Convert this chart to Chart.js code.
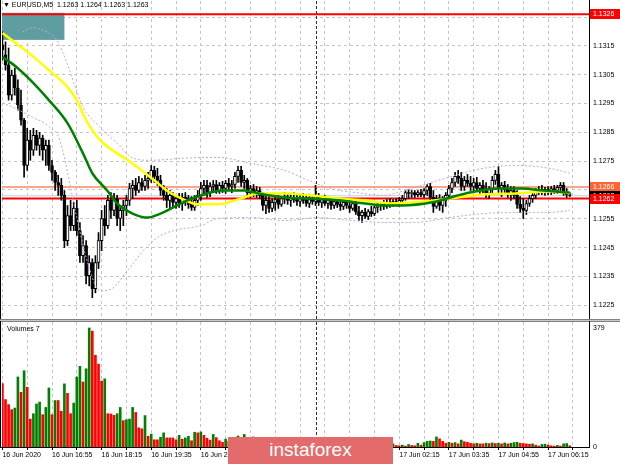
<!DOCTYPE html>
<html>
<head>
<meta charset="utf-8">
<script src="https://cdn.jsdelivr.net/npm/chart.js@4/dist/chart.umd.min.js"></script>
<style>
  html, body { margin: 0; padding: 0; background: #fff; }
  #wrap { position: relative; width: 620px; height: 465px; overflow: hidden; font-family: "Liberation Sans", Arial, sans-serif; }
  canvas { position: absolute; left: 0; }
  #cPrice { top: 0; }
  #cVol { top: 321px; }
  #sep { position: absolute; left: 0; top: 319px; width: 620px; height: 1px; background: #c8c8c8; border-top: 1px solid #808080; border-bottom: 1px solid #808080; }
  #head { position: absolute; left: 3px; top: 1px; font-size: 7px; color: #000; white-space: pre; }
  #volLbl { position: absolute; left: 7px; top: 325px; font-size: 7px; color: #000; }
  #mark { position: absolute; left: 228px; top: 437px; width: 165px; height: 27px; background: #e36b6b; color: #fff;
          font: 19px "Liberation Sans", Arial, sans-serif; text-align: center; line-height: 26px; }
</style>
</head>
<body>
<div id="wrap">
  <canvas id="cPrice" width="620" height="320"></canvas>
  <div id="sep"></div>
  <canvas id="cVol" width="620" height="144"></canvas>
  <div id="head">▼ EURUSD,M5  1.1263 1.1264 1.1263 1.1263</div>
  <div id="volLbl">Volumes 7</div>
  <div id="mark">instaforex</div>
</div>
<script>
// EURUSD M5, 16 Jun 15:35 -> 17 Jun 06:50, one entry per bar
const opens = [
  1.13154, 1.13119, 1.13084, 1.12979, 1.13049, 1.13004, 1.12945, 1.12892,
  1.12735, 1.12823, 1.12788, 1.12840, 1.12805, 1.12830, 1.12788, 1.12805,
  1.12735, 1.12711, 1.12676, 1.12666, 1.12631, 1.12474, 1.12561, 1.12526,
  1.12586, 1.12509, 1.12422, 1.12457, 1.12352, 1.12398, 1.12307, 1.12398,
  1.12474, 1.12551, 1.12526, 1.12614, 1.12579, 1.12620, 1.12551, 1.12579,
  1.12596, 1.12614, 1.12655, 1.12666, 1.12648, 1.12676, 1.12662, 1.12683,
  1.12690, 1.12718, 1.12697, 1.12683, 1.12648, 1.12631, 1.12614, 1.12631,
  1.12607, 1.12620, 1.12603, 1.12624, 1.12614, 1.12600, 1.12589, 1.12614,
  1.12631, 1.12655, 1.12666, 1.12641, 1.12662, 1.12669, 1.12648, 1.12666,
  1.12655, 1.12673, 1.12662, 1.12669, 1.12697, 1.12718, 1.12676, 1.12683,
  1.12641, 1.12655, 1.12638, 1.12648, 1.12631, 1.12596, 1.12614, 1.12586,
  1.12607, 1.12617, 1.12600, 1.12620, 1.12627, 1.12614, 1.12624, 1.12617,
  1.12610, 1.12620, 1.12614, 1.12603, 1.12617, 1.12610, 1.12627, 1.12607,
  1.12617, 1.12603, 1.12614, 1.12596, 1.12610, 1.12600, 1.12593, 1.12607,
  1.12596, 1.12586, 1.12603, 1.12575, 1.12561, 1.12572, 1.12558, 1.12575,
  1.12568, 1.12589, 1.12596, 1.12600, 1.12593, 1.12607, 1.12600, 1.12610,
  1.12603, 1.12614, 1.12620, 1.12641, 1.12638, 1.12641, 1.12634, 1.12641,
  1.12634, 1.12648, 1.12662, 1.12624, 1.12593, 1.12620, 1.12596, 1.12614,
  1.12631, 1.12655, 1.12676, 1.12697, 1.12690, 1.12662, 1.12683, 1.12673,
  1.12662, 1.12676, 1.12655, 1.12666, 1.12648, 1.12638, 1.12655, 1.12683,
  1.12704, 1.12655, 1.12666, 1.12652, 1.12634, 1.12648, 1.12631, 1.12600,
  1.12586, 1.12579, 1.12603, 1.12620, 1.12631, 1.12645, 1.12652, 1.12641,
  1.12652, 1.12645, 1.12655, 1.12648, 1.12659, 1.12666, 1.12641, 1.12634
];
const highs = [
  1.13199, 1.13164, 1.13143, 1.13066, 1.13073, 1.13032, 1.12997, 1.12899,
  1.12864, 1.12857, 1.12864, 1.12857, 1.12850, 1.12840, 1.12823, 1.12823,
  1.12753, 1.12718, 1.12701, 1.12690, 1.12648, 1.12596, 1.12614, 1.12607,
  1.12614, 1.12537, 1.12492, 1.12474, 1.12422, 1.12411, 1.12422, 1.12502,
  1.12579, 1.12596, 1.12631, 1.12641, 1.12638, 1.12631, 1.12596, 1.12614,
  1.12631, 1.12673, 1.12683, 1.12690, 1.12697, 1.12690, 1.12701, 1.12711,
  1.12735, 1.12732, 1.12725, 1.12701, 1.12666, 1.12655, 1.12648, 1.12641,
  1.12631, 1.12638, 1.12638, 1.12641, 1.12631, 1.12627, 1.12631, 1.12648,
  1.12676, 1.12683, 1.12683, 1.12676, 1.12683, 1.12683, 1.12676, 1.12680,
  1.12683, 1.12690, 1.12683, 1.12711, 1.12732, 1.12732, 1.12701, 1.12690,
  1.12666, 1.12669, 1.12662, 1.12659, 1.12641, 1.12631, 1.12627, 1.12620,
  1.12627, 1.12631, 1.12627, 1.12641, 1.12638, 1.12634, 1.12641, 1.12634,
  1.12631, 1.12638, 1.12631, 1.12627, 1.12631, 1.12666, 1.12638, 1.12627,
  1.12631, 1.12624, 1.12624, 1.12620, 1.12624, 1.12620, 1.12617, 1.12620,
  1.12614, 1.12610, 1.12614, 1.12593, 1.12579, 1.12586, 1.12582, 1.12593,
  1.12600, 1.12603, 1.12607, 1.12614, 1.12617, 1.12620, 1.12617, 1.12620,
  1.12624, 1.12631, 1.12648, 1.12652, 1.12648, 1.12648, 1.12648, 1.12652,
  1.12655, 1.12669, 1.12673, 1.12648, 1.12631, 1.12634, 1.12627, 1.12641,
  1.12666, 1.12690, 1.12711, 1.12718, 1.12711, 1.12697, 1.12704, 1.12697,
  1.12690, 1.12694, 1.12676, 1.12683, 1.12676, 1.12662, 1.12697, 1.12718,
  1.12732, 1.12676, 1.12680, 1.12669, 1.12662, 1.12662, 1.12648, 1.12627,
  1.12620, 1.12614, 1.12631, 1.12641, 1.12655, 1.12662, 1.12666, 1.12659,
  1.12662, 1.12662, 1.12666, 1.12666, 1.12676, 1.12676, 1.12655, 1.12641
];
const lows = [
  1.13101, 1.13066, 1.12962, 1.12962, 1.12979, 1.12927, 1.12875, 1.12694,
  1.12718, 1.12753, 1.12770, 1.12788, 1.12770, 1.12753, 1.12735, 1.12718,
  1.12683, 1.12648, 1.12631, 1.12614, 1.12450, 1.12457, 1.12509, 1.12509,
  1.12492, 1.12398, 1.12398, 1.12324, 1.12317, 1.12276, 1.12293, 1.12377,
  1.12439, 1.12492, 1.12516, 1.12551, 1.12561, 1.12526, 1.12509, 1.12526,
  1.12561, 1.12596, 1.12620, 1.12631, 1.12641, 1.12648, 1.12648, 1.12655,
  1.12676, 1.12676, 1.12666, 1.12631, 1.12614, 1.12589, 1.12589, 1.12589,
  1.12586, 1.12589, 1.12579, 1.12596, 1.12586, 1.12579, 1.12579, 1.12596,
  1.12614, 1.12631, 1.12624, 1.12627, 1.12641, 1.12638, 1.12638, 1.12641,
  1.12638, 1.12648, 1.12641, 1.12655, 1.12676, 1.12662, 1.12655, 1.12620,
  1.12624, 1.12627, 1.12624, 1.12620, 1.12579, 1.12568, 1.12572, 1.12575,
  1.12579, 1.12586, 1.12593, 1.12603, 1.12600, 1.12593, 1.12607, 1.12596,
  1.12593, 1.12603, 1.12593, 1.12589, 1.12600, 1.12596, 1.12596, 1.12589,
  1.12596, 1.12586, 1.12582, 1.12586, 1.12589, 1.12579, 1.12582, 1.12586,
  1.12572, 1.12579, 1.12565, 1.12544, 1.12537, 1.12551, 1.12547, 1.12558,
  1.12561, 1.12572, 1.12579, 1.12582, 1.12586, 1.12589, 1.12593, 1.12596,
  1.12593, 1.12600, 1.12614, 1.12620, 1.12624, 1.12624, 1.12627, 1.12627,
  1.12624, 1.12631, 1.12614, 1.12572, 1.12586, 1.12579, 1.12572, 1.12593,
  1.12620, 1.12641, 1.12662, 1.12673, 1.12648, 1.12648, 1.12662, 1.12648,
  1.12641, 1.12648, 1.12634, 1.12641, 1.12624, 1.12620, 1.12641, 1.12669,
  1.12641, 1.12627, 1.12641, 1.12624, 1.12614, 1.12620, 1.12586, 1.12572,
  1.12551, 1.12565, 1.12593, 1.12607, 1.12620, 1.12634, 1.12634, 1.12631,
  1.12634, 1.12634, 1.12638, 1.12638, 1.12648, 1.12631, 1.12624, 1.12627
];
const closes = [
  1.13136, 1.13084, 1.12979, 1.13049, 1.13004, 1.12945, 1.12892, 1.12735,
  1.12823, 1.12788, 1.12840, 1.12805, 1.12830, 1.12788, 1.12805, 1.12735,
  1.12711, 1.12676, 1.12666, 1.12631, 1.12474, 1.12561, 1.12526, 1.12586,
  1.12509, 1.12422, 1.12457, 1.12352, 1.12398, 1.12307, 1.12398, 1.12474,
  1.12551, 1.12526, 1.12614, 1.12579, 1.12620, 1.12551, 1.12579, 1.12596,
  1.12614, 1.12655, 1.12666, 1.12648, 1.12676, 1.12662, 1.12683, 1.12690,
  1.12718, 1.12697, 1.12683, 1.12648, 1.12631, 1.12614, 1.12631, 1.12607,
  1.12620, 1.12603, 1.12624, 1.12614, 1.12600, 1.12589, 1.12614, 1.12631,
  1.12655, 1.12666, 1.12641, 1.12662, 1.12669, 1.12648, 1.12666, 1.12655,
  1.12673, 1.12662, 1.12669, 1.12697, 1.12718, 1.12676, 1.12683, 1.12641,
  1.12655, 1.12638, 1.12648, 1.12631, 1.12596, 1.12614, 1.12586, 1.12607,
  1.12617, 1.12600, 1.12620, 1.12627, 1.12614, 1.12624, 1.12617, 1.12610,
  1.12620, 1.12614, 1.12603, 1.12617, 1.12610, 1.12627, 1.12607, 1.12617,
  1.12603, 1.12614, 1.12596, 1.12610, 1.12600, 1.12593, 1.12607, 1.12596,
  1.12586, 1.12603, 1.12575, 1.12561, 1.12572, 1.12558, 1.12575, 1.12568,
  1.12589, 1.12596, 1.12600, 1.12593, 1.12607, 1.12600, 1.12610, 1.12603,
  1.12614, 1.12620, 1.12641, 1.12638, 1.12641, 1.12634, 1.12641, 1.12634,
  1.12648, 1.12662, 1.12624, 1.12593, 1.12620, 1.12596, 1.12614, 1.12631,
  1.12655, 1.12676, 1.12697, 1.12690, 1.12662, 1.12683, 1.12673, 1.12662,
  1.12676, 1.12655, 1.12666, 1.12648, 1.12638, 1.12655, 1.12683, 1.12704,
  1.12655, 1.12666, 1.12652, 1.12634, 1.12648, 1.12631, 1.12600, 1.12586,
  1.12579, 1.12603, 1.12620, 1.12631, 1.12645, 1.12652, 1.12641, 1.12652,
  1.12645, 1.12655, 1.12648, 1.12659, 1.12666, 1.12641, 1.12634, 1.12631
];
const volumes = [
  202, 151, 135, 119, 124, 223, 174, 243, 190, 89, 106, 137, 143, 103, 126, 188,
  103, 148, 148, 114, 201, 171, 106, 140, 223, 257, 207, 249, 379, 369, 292, 264,
  210, 217, 106, 105, 101, 106, 126, 84, 87, 89, 126, 110, 61, 58, 100, 34,
  41, 23, 23, 31, 45, 29, 29, 29, 23, 37, 25, 29, 34, 20, 47, 45,
  48, 37, 28, 22, 40, 30, 20, 15, 25,
  18, 30, 22, 35, 28, 40, 24, 20, 32, 26, 19, 15, 22, 28, 17, 14, 20, 12, 16, 25,
  18, 13, 10, 14, 21, 16, 12, 19, 24, 15, 11, 9, 13, 18, 22, 14, 10, 12, 16, 11,
  8, 13, 17, 12, 9, 11, 15, 10, 8, 12, 9, 11, 7, 10,
  5, 4, 6, 3, 8, 5, 4, 12, 6,
  14, 18, 19, 18, 32, 26, 18, 12, 15, 12, 14, 10, 22, 17, 15, 12,
  10, 12, 10, 10, 12, 11, 13, 11, 12, 10, 13, 10, 12, 14, 15, 12,
  11, 10, 9, 10, 6, 3, 8, 9, 6, 4, 3, 5, 3, 10, 11, 4
];

// indicator lines, read at bar positions
const maSlowBars   = [0, 5.5, 10, 15, 21, 24, 27, 31.5, 37, 42, 47.7, 51, 53, 58.4, 63, 69.5, 78, 82.5, 91, 99.7, 108.5, 117, 125.6, 133, 144, 155, 165.6, 176.6, 183];
const maSlowValues = [1.13195, 1.13150, 1.13112, 1.13066, 1.13007, 1.12962, 1.12892, 1.12823, 1.12777, 1.12742, 1.12694, 1.12666, 1.12648, 1.12617, 1.12600, 1.12600, 1.12624, 1.12638, 1.12638, 1.12631, 1.12620, 1.12614, 1.12603, 1.12607, 1.12620, 1.12634, 1.12638, 1.12645, 1.12638];
const maFastBars   = [0, 4.5, 10, 15, 21, 26, 29, 33.8, 37, 42, 46.8, 51, 55, 59.7, 64, 71, 78, 82.5, 91, 99.7, 108.5, 117, 123.4, 128.9, 138.6, 149.4, 160.4, 167.8, 174.4, 183];
const maFastValues = [1.13112, 1.13077, 1.13021, 1.12962, 1.12882, 1.12777, 1.12708, 1.12648, 1.12603, 1.12568, 1.12554, 1.12568, 1.12589, 1.12614, 1.12631, 1.12648, 1.12648, 1.12638, 1.12624, 1.12620, 1.12614, 1.12603, 1.12596, 1.12596, 1.12607, 1.12638, 1.12655, 1.12655, 1.12648, 1.12641];
const bandUpBars   = [6.5, 9.7, 13.6, 17.5, 20.8, 26, 31.5, 37, 42.2, 47.7, 58.4, 69.5, 80.2, 91, 98.7, 106, 116, 122.4, 133, 144, 155, 165.6, 176.6, 183];
const bandUpValues = [1.13199, 1.13213, 1.13202, 1.13171, 1.13091, 1.12938, 1.12868, 1.12812, 1.12760, 1.12753, 1.12760, 1.12763, 1.12742, 1.12718, 1.12683, 1.12655, 1.12638, 1.12631, 1.12659, 1.12694, 1.12725, 1.12735, 1.12725, 1.12708];
const bandLoBars   = [0, 3.2, 9.7, 15.3, 18.5, 24, 27.3, 31.5, 35.7, 40.3, 45.5, 50, 55.2, 64, 69.5, 80.2, 91, 102, 112.7, 123.4, 133, 144, 155, 165.6, 176.6, 183];
const bandLoValues = [1.12952, 1.12938, 1.12903, 1.12868, 1.12823, 1.12554, 1.12405, 1.12300, 1.12310, 1.12370, 1.12439, 1.12485, 1.12509, 1.12526, 1.12551, 1.12554, 1.12544, 1.12554, 1.12544, 1.12537, 1.12537, 1.12554, 1.12568, 1.12572, 1.12572, 1.12579];

// axis labels
const timeLabels = ['16 Jun 2020', '16 Jun 16:55', '16 Jun 18:15', '16 Jun 19:35', '16 Jun 20:55', '16 Jun 22:15',
                    '16 Jun 23:35', '17 Jun 00:55', '17 Jun 02:15', '17 Jun 03:35', '17 Jun 04:55', '17 Jun 06:15'];
const priceTicks = [1.1225, 1.1235, 1.1245, 1.1255, 1.1265, 1.1275, 1.1285, 1.1295, 1.1305, 1.1315, 1.1325];
const volumeTicks = [0, 379];

// chart objects
const daySeparatorBar = 101;                 // 17 Jun 00:00
const levelTop  = 1.1326;
const levelAsk  = 1.1266;
const levelBid  = 1.1263;
const levelLow  = 1.1262;
const boxObject = { bar1: -0.2, bar2: 20, price1: 1.13265, price2: 1.13171 };

Chart.defaults.font.family = '"Liberation Sans", Arial, sans-serif';
Chart.defaults.font.size = 7;
Chart.defaults.color = '#000';

const X_MIN = -0.13, X_MAX = 189.2;

function xAxis(showLabels) {
  return {
    type: 'linear', min: X_MIN, max: X_MAX, offset: false,
    grid: { color: '#c4c4c4', offset: false, drawTicks: showLabels, tickLength: 3, tickColor: '#000' },
    border: { display: false, dash: [3, 3] },
    ticks: {
      display: showLabels, autoSkip: false, maxRotation: 0, minRotation: 0, align: 'start', padding: 1,
      callback: (v, i) => (i % 2 === 0 ? (timeLabels[i / 2] || '') : '')
    },
    afterBuildTicks: s => {
      const t = [];
      for (let v = 0; v <= 184; v += 8) t.push({ value: v });
      s.ticks = t;
    },
    afterFit: s => { s.height = showLabels ? 18 : 0; s.paddingLeft = 0; s.paddingRight = 0; }
  };
}

function drawSeparator(chart) {
  const { ctx, chartArea: a, scales: { x } } = chart;
  const px = Math.round(x.getPixelForValue(daySeparatorBar)) + 0.5;
  ctx.save();
  ctx.strokeStyle = '#303030';
  ctx.lineWidth = 1;
  ctx.setLineDash([3, 2]);
  ctx.beginPath(); ctx.moveTo(px, a.top); ctx.lineTo(px, a.bottom); ctx.stroke();
  ctx.restore();
}

function axisTag(ctx, left, y, value, bg) {
  const yy = Math.round(y);
  ctx.fillStyle = bg;
  ctx.fillRect(left + 1, yy - 5, 31, 10);
  ctx.fillStyle = '#fff';
  ctx.textBaseline = 'middle';
  ctx.textAlign = 'left';
  ctx.font = '7px "Liberation Sans", Arial, sans-serif';
  ctx.fillText(value.toFixed(4), left + 4, yy + 0.5);
}

const priceDecor = {
  id: 'priceDecor',
  beforeDatasetsDraw(chart) {
    const { ctx, chartArea: a, scales: { x, y } } = chart;
    ctx.save();
    // rectangle object
    const bx1 = Math.max(a.left, x.getPixelForValue(boxObject.bar1));
    const bx2 = x.getPixelForValue(boxObject.bar2);
    const by1 = y.getPixelForValue(boxObject.price1);
    const by2 = y.getPixelForValue(boxObject.price2);
    ctx.fillStyle = 'rgb(95,158,160)';
    ctx.fillRect(bx1, by1, bx2 - bx1, by2 - by1);
    ctx.restore();
    drawSeparator(chart);
    ctx.save();
    const hl = (v, color, w) => {
      ctx.strokeStyle = color; ctx.lineWidth = w;
      const py = y.getPixelForValue(v);
      ctx.beginPath(); ctx.moveTo(a.left, py); ctx.lineTo(a.right, py); ctx.stroke();
    };
    hl(levelAsk, 'rgb(250,165,135)', 2);
    hl(levelBid, 'rgb(185,215,235)', 1);
    hl(levelLow, '#ff0000', 2);
    hl(levelTop, '#ff0000', 2);
    ctx.restore();
  },
  afterDraw(chart) {
    const { ctx, chartArea: a, scales: { y } } = chart;
    ctx.save();
    ctx.fillStyle = '#000';
    ctx.fillRect(0, 0, 1, chart.height);
    ctx.fillRect(a.right, 0, 1, chart.height);
    axisTag(ctx, a.right, y.getPixelForValue(levelTop), levelTop, '#ff0000');
    axisTag(ctx, a.right, y.getPixelForValue(levelAsk), levelAsk, 'rgb(255,100,50)');
    axisTag(ctx, a.right, y.getPixelForValue(levelBid), levelBid, '#000');
    axisTag(ctx, a.right, y.getPixelForValue(levelLow), levelLow, '#ff0000');
    ctx.restore();
  }
};

const volDecor = {
  id: 'volDecor',
  beforeDatasetsDraw(chart) { drawSeparator(chart); },
  afterDraw(chart) {
    const { ctx, chartArea: a } = chart;
    ctx.save();
    ctx.fillStyle = '#000';
    ctx.fillRect(0, 0, 1, a.bottom + 1);
    ctx.fillRect(a.right, 0, 1, a.bottom + 1);
    ctx.fillRect(0, a.bottom, a.right + 1, 1);
    ctx.restore();
  }
};

const line = (bars, vals, color, width, dash, order) => ({
  type: 'line',
  data: bars.map((b, i) => ({ x: b, y: vals[i] })),
  borderColor: color, borderWidth: width, borderDash: dash,
  pointRadius: 0, tension: 0.4, cubicInterpolationMode: 'monotone', order
});

new Chart(document.getElementById('cPrice'), {
  type: 'bar',
  data: {
    datasets: [
      line(maFastBars, maFastValues, '#008000', 2.5, [], 0),
      line(maSlowBars, maSlowValues, '#ffff00', 2.5, [], 1),
      line(bandUpBars, bandUpValues, 'rgb(200,160,225)', 1, [2, 2], 2),
      line(bandLoBars, bandLoValues, 'rgb(200,160,225)', 1, [2, 2], 2),
      {
        type: 'bar', order: 3, grouped: false, barThickness: 3,
        data: opens.map((o, i) => ({ x: i, y: [o, closes[i]] })),
        backgroundColor: opens.map((o, i) => (closes[i] >= o ? '#fff' : '#000')),
        borderColor: '#000', borderWidth: 1, borderSkipped: false
      },
      {
        type: 'bar', order: 4, grouped: false, barThickness: 1,
        data: lows.map((l, i) => ({ x: i, y: [l, highs[i]] })),
        backgroundColor: '#000'
      }
    ]
  },
  options: {
    responsive: false, animation: false, events: [], devicePixelRatio: 1,
    layout: { padding: { top: 1, left: 2, right: 0, bottom: 1 } },
    plugins: { legend: { display: false }, tooltip: { enabled: false } },
    scales: {
      x: xAxis(false),
      y: {
        type: 'linear', position: 'right', min: 1.12202, max: 1.13306, beginAtZero: false,
        grid: { color: '#c4c4c4', drawTicks: false },
        border: { display: false, dash: [3, 3] },
        ticks: { padding: 4, callback: v => v.toFixed(4) },
        afterBuildTicks: s => { s.ticks = priceTicks.map(v => ({ value: v })); },
        afterFit: s => { s.width = 31; s.paddingTop = 0; s.paddingBottom = 0; }
      }
    }
  },
  plugins: [priceDecor]
});

new Chart(document.getElementById('cVol'), {
  type: 'bar',
  data: {
    datasets: [{
      grouped: false, barThickness: 2,
      data: volumes.map((v, i) => ({ x: i, y: v })),
      backgroundColor: volumes.map((v, i) => (i > 0 && v > volumes[i - 1] ? '#008000' : '#ff0000'))
    }]
  },
  options: {
    responsive: false, animation: false, events: [], devicePixelRatio: 1,
    layout: { padding: { top: 1, left: 2, right: 0, bottom: 0 } },
    plugins: { legend: { display: false }, tooltip: { enabled: false } },
    scales: {
      x: xAxis(true),
      y: {
        type: 'linear', position: 'right', min: 0, max: 398,
        grid: { display: false, drawTicks: false },
        border: { display: false },
        ticks: { padding: 4 },
        afterBuildTicks: s => { s.ticks = volumeTicks.map(v => ({ value: v })); },
        afterFit: s => { s.width = 31; s.paddingTop = 0; s.paddingBottom = 0; }
      }
    }
  },
  plugins: [volDecor]
});
</script>
</body>
</html>
